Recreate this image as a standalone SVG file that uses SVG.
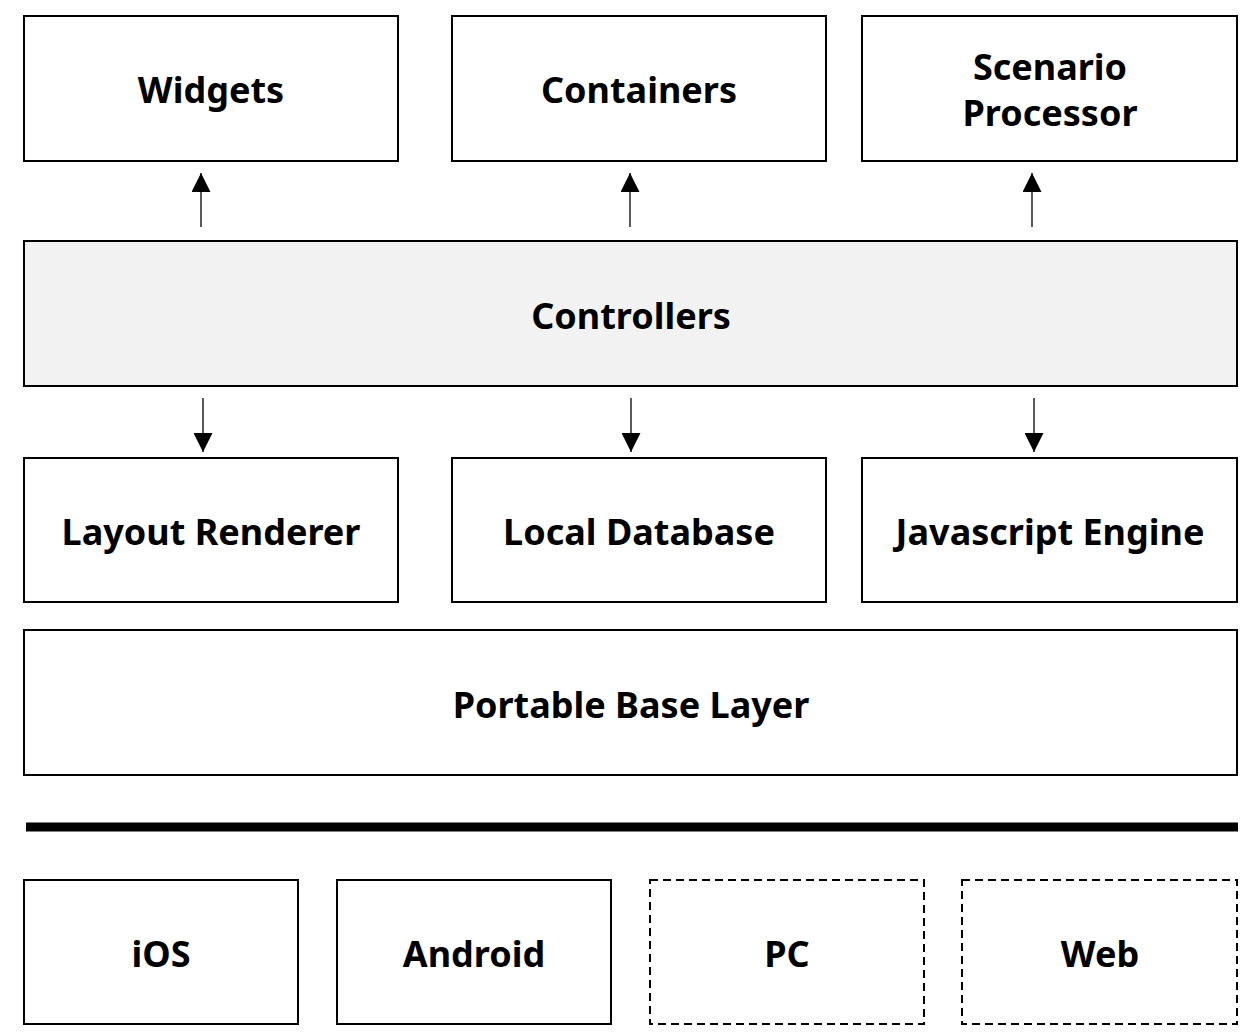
<svg xmlns="http://www.w3.org/2000/svg" width="1260" height="1036" viewBox="0 0 1260 1036">
<style>
.box{fill:#fff;stroke:#000;stroke-width:2}
.ctl{fill:#f2f2f2;stroke:#000;stroke-width:2}
.dash{fill:#fff;stroke:#000;stroke-width:2;stroke-dasharray:8 5}
.lbl{font-family:"Noto Sans","Open Sans","DejaVu Sans",sans-serif;font-weight:bold;font-size:36px;fill:#000;text-anchor:middle}
.con{stroke:#000;stroke-width:1.3;fill:none}
</style>
<defs>
<marker id="ah" viewBox="0 0 10 10" refX="10" refY="5" markerWidth="19" markerHeight="19" markerUnits="userSpaceOnUse" orient="auto">
<path d="M0,0 L10,5 L0,10 z" fill="#000"/>
</marker>
</defs>
<rect width="1260" height="1036" fill="#fff"/>
<g id="widgets"><rect class="box" x="24" y="16" width="374" height="145"/><text class="lbl" x="211" y="103">Widgets</text></g>
<g id="containers"><rect class="box" x="452" y="16" width="374" height="145"/><text class="lbl" x="639" y="103">Containers</text></g>
<g id="scenario"><rect class="box" x="862" y="16" width="375" height="145"/><text class="lbl" x="1050" y="80">Scenario</text><text class="lbl" x="1050" y="126">Processor</text></g>
<g id="controllers"><rect class="ctl" x="24" y="241" width="1213" height="145"/><text class="lbl" x="631" y="329">Controllers</text></g>
<g id="layout"><rect class="box" x="24" y="458" width="374" height="144"/><text class="lbl" x="211" y="545">Layout Renderer</text></g>
<g id="localdb"><rect class="box" x="452" y="458" width="374" height="144"/><text class="lbl" x="639" y="545">Local Database</text></g>
<g id="jsengine"><rect class="box" x="862" y="458" width="375" height="144"/><text class="lbl" x="1050" y="545">Javascript Engine</text></g>
<g id="portable"><rect class="box" x="24" y="630" width="1213" height="145"/><text class="lbl" x="631" y="718">Portable Base Layer</text></g>
<g id="separator"><line x1="26" y1="827" x2="1238" y2="827" stroke="#000" stroke-width="9"/></g>
<g id="ios"><rect class="box" x="24" y="880" width="274" height="144"/><text class="lbl" x="161" y="967">iOS</text></g>
<g id="android"><rect class="box" x="337" y="880" width="274" height="144"/><text class="lbl" x="474" y="967">Android</text></g>
<g id="pc"><rect class="dash" x="650" y="880" width="274" height="144"/><text class="lbl" x="787" y="967">PC</text></g>
<g id="web"><rect class="dash" x="962" y="880" width="275" height="144"/><text class="lbl" x="1100" y="967">Web</text></g>
<g id="connectors">
<line class="con" x1="201" y1="227" x2="201" y2="173" marker-end="url(#ah)"/>
<line class="con" x1="630" y1="227" x2="630" y2="173" marker-end="url(#ah)"/>
<line class="con" x1="1032" y1="227" x2="1032" y2="173" marker-end="url(#ah)"/>
<line class="con" x1="203" y1="398" x2="203" y2="452" marker-end="url(#ah)"/>
<line class="con" x1="631" y1="398" x2="631" y2="452" marker-end="url(#ah)"/>
<line class="con" x1="1034" y1="398" x2="1034" y2="452" marker-end="url(#ah)"/>
</g>
</svg>
